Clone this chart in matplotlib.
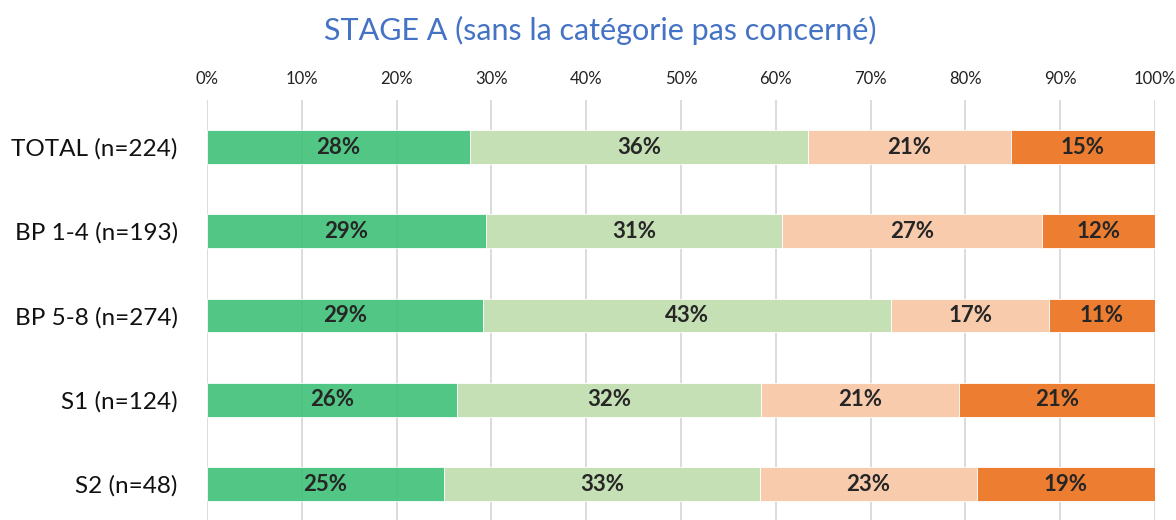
import matplotlib
matplotlib.use("Agg")
import matplotlib.pyplot as plt
import numpy as np

plt.rcParams['font.family'] = ['Lato', 'DejaVu Sans']

# Groups (top to bottom) and the share of each answer category, in percent
categories = ["TOTAL (n=224)", "BP 1-4 (n=193)", "BP 5-8 (n=274)", "S1 (n=124)", "S2 (n=48)"]
serie_1 = [27.7, 29.4, 29.1, 26.4, 25.0]
serie_2 = [35.7, 31.3, 43.1, 32.0, 33.3]
serie_3 = [21.4, 27.4, 16.6, 20.9, 22.9]
serie_4 = [15.2, 11.9, 11.2, 20.7, 18.8]
tick_values = [0, 10, 20, 30, 40, 50, 60, 70, 80, 90, 100]
tick_labels = [f"{v}%" for v in tick_values]

series = [serie_1, serie_2, serie_3, serie_4]
colors = ["#45C27C", "#C5E0B4", "#F8CBAD", "#ED7D31"]
alphas = [0.93, 1.0, 1.0, 1.0]

fig = plt.figure(figsize=(11.76, 5.2), dpi=100)
ax = fig.add_axes([207 / 1176, 0.0, (1155 - 207) / 1176, 1 - 100 / 520])

y = np.arange(len(categories))
left = np.zeros(len(categories))
for vals, col, a in zip(series, colors, alphas):
    vals = np.array(vals)
    ax.barh(y, vals, left=left, height=0.4, color=col, alpha=a, zorder=2,
            edgecolor="white", linewidth=0.6)
    for yi, (l, v) in enumerate(zip(left, vals)):
        ax.text(l + v / 2, yi, f"{v:.0f}%", ha="center", va="center",
                fontsize=16, fontweight="bold", color="#262626", zorder=4)
    left += vals

ax.set_xlim(0, 100)
ax.set_ylim(4.427, -0.558)
ax.set_xticks(tick_values)
ax.set_xticklabels(tick_labels, fontsize=12, color="#222222")
ax.xaxis.tick_top()
ax.tick_params(axis="x", length=0, pad=9)
ax.set_yticks(y)
ax.set_yticklabels(categories, fontsize=17.5, color="#111111")
ax.tick_params(axis="y", length=0, pad=21)
ax.grid(axis="x", color="#D9D9D9", linewidth=1.3, zorder=1)
ax.set_axisbelow(True)
for s in ax.spines.values():
    s.set_visible(False)

fig.text(600 / 1176, 1 - 30 / 520, "STAGE A (sans la catégorie pas concerné)",
         ha="center", va="center", fontsize=22, color="#4472C4")

fig.savefig("out.png", dpi=100)
